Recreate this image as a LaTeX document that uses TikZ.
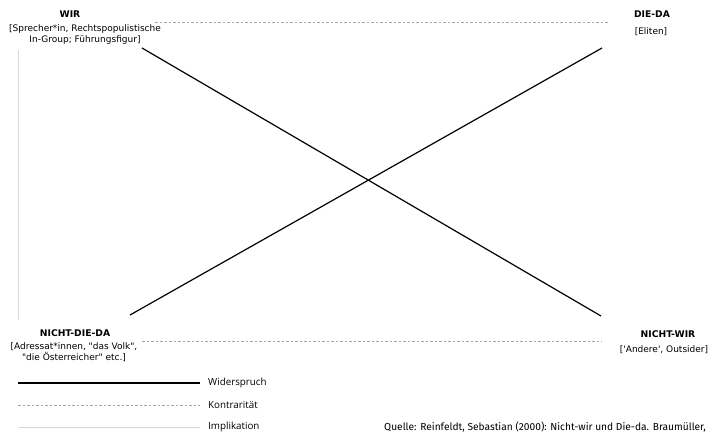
\documentclass[tikz,border=0pt]{standalone}
\usepackage{fontspec}
\setmainfont{DejaVu Sans}[Ligatures=TeXOff]
\newfontfamily\legfont{Open Sans}
\newfontfamily\srcfont{Fira Sans}
\begin{document}
\begin{tikzpicture}[x=1pt,y=-1pt,
  head/.style={font=\fontsize{9.2}{10}\selectfont\bfseries, inner sep=0pt, anchor=center},
  sub/.style={font=\fontsize{9}{11}\selectfont, inner sep=0pt, align=center, anchor=north},
  contra/.style={line width=1.2pt},
  kontr/.style={gray!70, dashed, dash pattern=on 2.5pt off 2pt, line width=0.6pt},
  impl/.style={gray!30, line width=1pt},
  leg/.style={font=\legfont\fontsize{9.8}{11}\selectfont, inner sep=0pt, anchor=west}]
\useasboundingbox (0,0) rectangle (714,435);
% headings
\node[head] (wir) at (70,14) {WIR};
\node[sub] (wirsub) at (85,24) {[Sprecher*in, Rechtspopulistische\\In-Group; Führungsfigur]};
\node[head] (dieda) at (652,14) {DIE-DA};
\node[sub] (diedasub) at (651,27) {[Eliten]};
\node[head] (ndd) at (75,333) {NICHT-DIE-DA};
\node[sub] (nddsub) at (74,342) {[Adressat*innen, "das Volk",\\"die Österreicher" etc.]};
\node[head] (nwir) at (668,334) {NICHT-WIR};
\node[sub] (nwirsub) at (664,345) {['Andere', Outsider]};
% endpoints
\coordinate (a1) at (142,48);
\coordinate (a2) at (601,316);
\coordinate (b1) at (130,315);
\coordinate (b2) at (602,48);
\coordinate (t1) at (155,22);
\coordinate (t2) at (608,22);
\coordinate (u1) at (142,341);
\coordinate (u2) at (602,341);
\coordinate (l1) at (18,50);
\coordinate (l2) at (18,320);
\draw[contra] (a1) -- (a2);
\draw[contra] (b1) -- (b2);
\draw[kontr] (t1) -- (t2);
\draw[kontr] (u1) -- (u2);
\draw[impl] (l1) -- (l2);
% legend
\coordinate (g1a) at (18,383); \coordinate (g1b) at (200,383);
\coordinate (g2a) at (18,405); \coordinate (g2b) at (200,405);
\coordinate (g3a) at (18,427); \coordinate (g3b) at (200,427);
\draw[contra, line width=1.4pt] (g1a) -- (g1b);
\draw[kontr] (g2a) -- (g2b);
\draw[impl] (g3a) -- (g3b);
\node[leg] (l1t) at (208,383) {Widerspruch};
\node[leg] (l2t) at (208,405) {Kontrarität};
\node[leg] (l3t) at (208,427) {Implikation};
\node[inner sep=0pt, anchor=east, font=\srcfont\fontsize{10.2}{12}\selectfont] (src) at (706,427) {Quelle: Reinfeldt, Sebastian (2000): Nicht-wir und Die-da. Braumüller,};
\end{tikzpicture}
\end{document}
